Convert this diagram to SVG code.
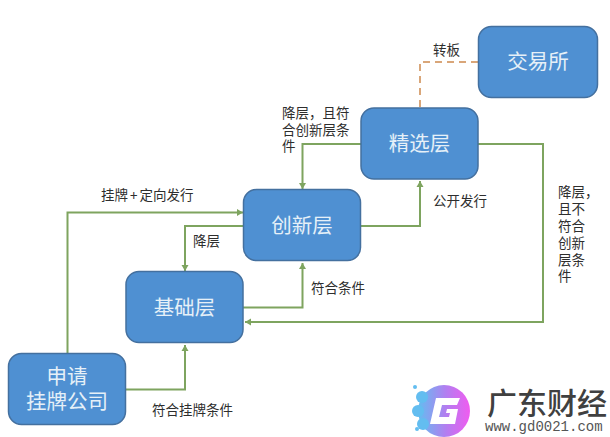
<svg xmlns="http://www.w3.org/2000/svg" width="610" height="437" viewBox="0 0 610 437">
<style>
.n{fill:#4f90d2;stroke:#44709f;stroke-width:1.500}
.t{font-family:"Noto Sans CJK SC","Liberation Sans",sans-serif;font-size:20.500px;fill:#e6f0f8;text-anchor:middle}
.l{font-family:"Noto Sans CJK SC","Liberation Sans",sans-serif;font-size:13.500px;fill:#2e2e2e}
.c{fill:none;stroke:#7ea45f;stroke-width:2}
.d{fill:none;stroke:#d9a679;stroke-width:2;stroke-dasharray:7 5}
</style>
<defs>
<marker id="a" markerUnits="userSpaceOnUse" markerWidth="8" markerHeight="8" refX="6" refY="4" orient="auto"><path d="M0 0.500L6 4L0 7.500Z" fill="#7ea45f"/></marker>
<linearGradient id="g" x1="0" x2="1" y1="0" y2="0"><stop offset="0" stop-color="#63bdf0"/><stop offset="0.55" stop-color="#b47df0"/><stop offset="1" stop-color="#f05cf0"/></linearGradient>
</defs>
<rect width="610" height="437" fill="#fff"/>
<g id="connectors">
<path class="d" d="M420 107V62H478"/>
<path class="c" marker-end="url(#a)" d="M126 389.500H185V345"/>
<path class="c" marker-end="url(#a)" d="M67.500 353V212.500H243"/>
<path class="c" marker-end="url(#a)" d="M243 226H185V271"/>
<path class="c" marker-end="url(#a)" d="M243 307.500H302.500V263"/>
<path class="c" marker-end="url(#a)" d="M478 144H543V322H245"/>
<path class="c" marker-end="url(#a)" d="M361 144H302.500V189"/>
<path class="c" marker-end="url(#a)" d="M361 226H420V181"/>
</g>
<g id="node-exchange"><rect class="n" x="478.500" y="26.500" width="119" height="71" rx="13"/><text class="t" x="538" y="69">交易所</text></g>
<g id="node-select"><rect class="n" x="361" y="108" width="117" height="71" rx="13"/><text class="t" x="419.500" y="151">精选层</text></g>
<g id="node-innovate"><rect class="n" x="243.500" y="189.500" width="117" height="71" rx="13"/><text class="t" x="302" y="233">创新层</text></g>
<g id="node-base"><rect class="n" x="126" y="271.500" width="117" height="71" rx="13"/><text class="t" x="184.500" y="315">基础层</text></g>
<g id="node-apply"><rect class="n" x="8.500" y="353.500" width="117" height="71" rx="13"/><text class="t" x="67"><tspan x="67" y="384">申请</tspan><tspan x="67" y="409">挂牌公司</tspan></text></g>
<g id="labels">
<text class="l" x="433" y="55">转板</text>
<text class="l"><tspan x="282" y="118">降层，且符</tspan><tspan x="282" y="135">合创新层条</tspan><tspan x="282" y="151">件</tspan></text>
<text class="l" x="433" y="206">公开发行</text>
<text class="l" x="101" y="200">挂牌<tspan dx="2">+</tspan><tspan dx="2">定向发行</tspan></text>
<text class="l" x="193" y="246">降层</text>
<text class="l" x="311" y="293">符合条件</text>
<text class="l" x="152" y="415">符合挂牌条件</text>
<text class="l"><tspan x="558" y="197">降层，</tspan><tspan x="558" y="214">且不</tspan><tspan x="558" y="231">符合</tspan><tspan x="558" y="248">创新</tspan><tspan x="558" y="265">层条</tspan><tspan x="558" y="281">件</tspan></text>
</g>
<g id="watermark">
<circle cx="444" cy="411" r="26" fill="url(#g)"/>
<circle cx="422" cy="397" r="6" fill="#63bdf0"/><circle cx="418" cy="411" r="6" fill="#63bdf0"/><circle cx="423" cy="424" r="6" fill="#63bdf0"/><circle cx="415" cy="387" r="2" fill="#63bdf0"/><circle cx="417" cy="429" r="2" fill="#63bdf0"/>
<path d="M436 398H460L457 405H442L439 417H449L450 413H446L447 409H458L455 424H430Z" fill="#fff"/>
<text x="487" y="414" font-family="'Noto Sans CJK SC',sans-serif" font-size="30px" font-weight="500" fill="#404040">广东财经</text>
<text x="485" y="431" font-family="'Liberation Mono',monospace" font-size="14px" fill="#555">www.gd0021.com</text>
</g>
</svg>
